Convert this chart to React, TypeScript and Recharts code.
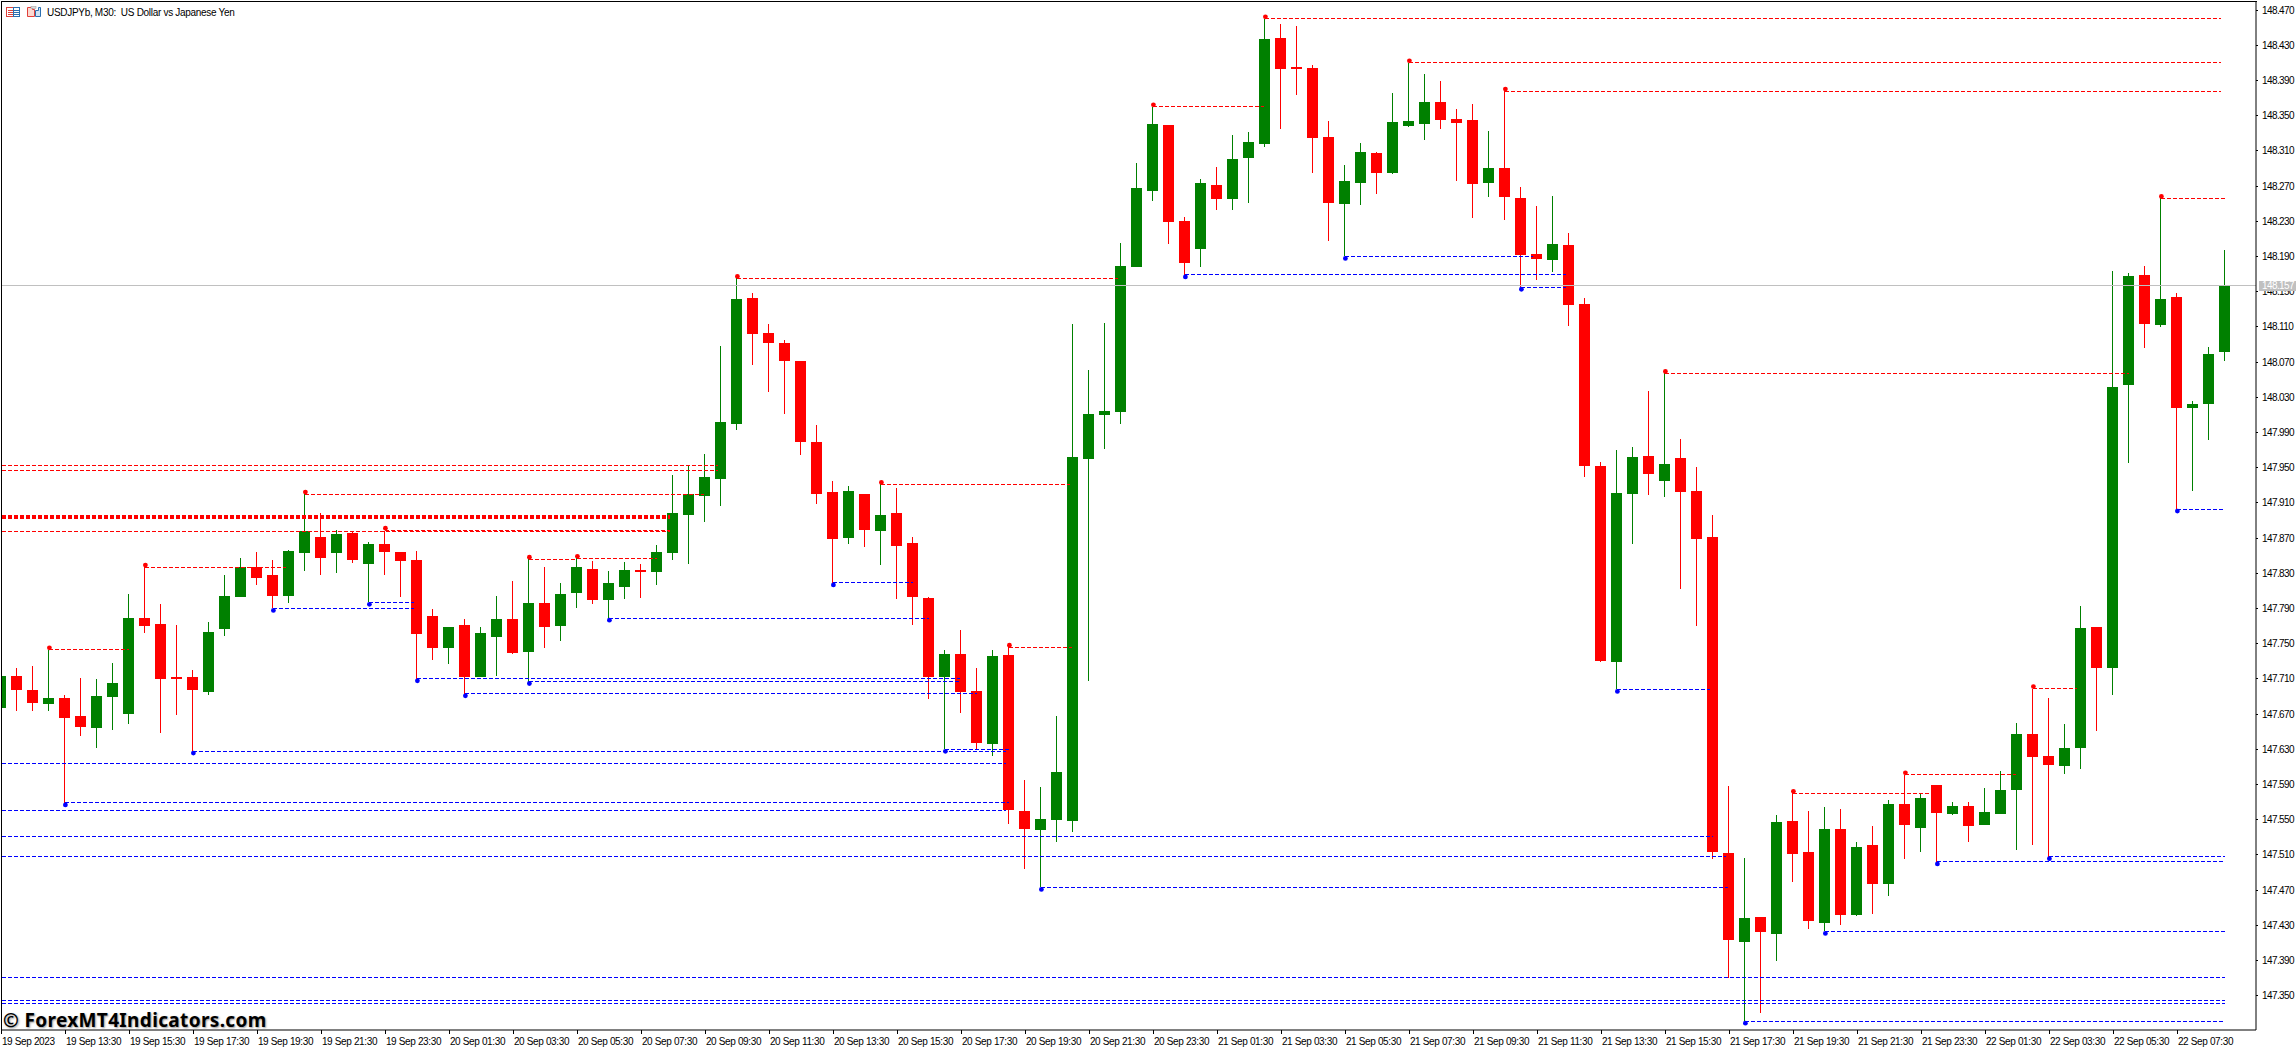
import React from 'react';
import { Bar, ComposedChart, ReferenceDot, ReferenceLine, XAxis, YAxis } from 'recharts';

const WIDTH = 2296;
const HEIGHT = 1047;
const X_MIN = 0.0375;
const X_MAX = 140.9125;
const UP = '#008000';
const DOWN = '#ff0000';
const BLUE = '#0000ff';
const LABEL_FONT = '"Liberation Sans", sans-serif';

const opens = [
  147.677, 147.713, 147.697, 147.682, 147.688, 147.668, 147.654, 147.689, 147.670, 147.779,
  147.772, 147.712, 147.712, 147.695, 147.767, 147.803, 147.837, 147.828, 147.804, 147.853,
  147.871, 147.853, 147.876, 147.841, 147.863, 147.854, 147.845, 147.782, 147.745, 147.771,
  147.712, 147.758, 147.778, 147.741, 147.796, 147.770, 147.808, 147.835, 147.800, 147.814,
  147.834, 147.832, 147.853, 147.896, 147.918, 147.937, 148.000, 148.143, 148.103, 148.092,
  148.071, 147.979, 147.922, 147.870, 147.920, 147.878, 147.898, 147.864, 147.802, 147.712,
  147.738, 147.696, 147.636, 147.737, 147.560, 147.538, 147.550, 147.548, 147.960, 148.010,
  148.013, 148.178, 148.264, 148.339, 148.230, 148.199, 148.271, 148.255, 148.302, 148.318,
  148.438, 148.405, 148.404, 148.326, 148.250, 148.274, 148.308, 148.285, 148.338, 148.341,
  148.366, 148.346, 148.345, 148.274, 148.291, 148.256, 148.193, 148.186, 148.203, 148.136,
  147.952, 147.729, 147.920, 147.963, 147.935, 147.961, 147.924, 147.871, 147.512, 147.411,
  147.439, 147.420, 147.549, 147.513, 147.433, 147.539, 147.442, 147.521, 147.477, 147.568,
  147.541, 147.589, 147.557, 147.566, 147.544, 147.557, 147.584, 147.647, 147.622, 147.611,
  147.632, 147.769, 147.722, 148.044, 148.169, 148.112, 148.144, 148.018, 148.022, 148.081,
];

const highs = [
  147.720, 147.722, 147.725, 147.743, 147.692, 147.711, 147.710, 147.728, 147.807, 147.837,
  147.795, 147.771, 147.720, 147.775, 147.828, 147.847, 147.854, 147.845, 147.857, 147.920,
  147.899, 147.879, 147.877, 147.866, 147.878, 147.854, 147.855, 147.789, 147.769, 147.778,
  147.769, 147.804, 147.821, 147.846, 147.837, 147.819, 147.847, 147.844, 147.833, 147.843,
  147.841, 147.862, 147.942, 147.953, 147.966, 148.088, 148.165, 148.149, 148.113, 148.095,
  148.071, 147.999, 147.935, 147.929, 147.920, 147.931, 147.927, 147.871, 147.803, 147.743,
  147.766, 147.722, 147.743, 147.746, 147.595, 147.587, 147.668, 148.113, 148.061, 148.114,
  148.205, 148.296, 148.360, 148.339, 148.235, 148.278, 148.292, 148.328, 148.331, 148.460,
  148.454, 148.452, 148.408, 148.344, 148.294, 148.319, 148.309, 148.376, 148.410, 148.397,
  148.389, 148.358, 148.363, 148.333, 148.378, 148.269, 148.247, 148.259, 148.217, 148.143,
  147.956, 147.970, 147.973, 148.037, 148.058, 147.983, 147.951, 147.896, 147.588, 147.506,
  147.439, 147.555, 147.580, 147.560, 147.564, 147.562, 147.525, 147.543, 147.572, 147.601,
  147.580, 147.589, 147.570, 147.570, 147.586, 147.605, 147.660, 147.699, 147.688, 147.659,
  147.793, 147.769, 148.173, 148.171, 148.179, 148.256, 148.148, 148.026, 148.087, 148.197,
];

const lows = [
  147.672, 147.674, 147.674, 147.674, 147.569, 147.645, 147.631, 147.652, 147.659, 147.762,
  147.649, 147.669, 147.628, 147.692, 147.759, 147.803, 147.817, 147.790, 147.796, 147.833,
  147.828, 147.830, 147.842, 147.797, 147.828, 147.803, 147.710, 147.732, 147.727, 147.693,
  147.712, 147.713, 147.738, 147.707, 147.745, 147.753, 147.791, 147.795, 147.779, 147.801,
  147.802, 147.817, 147.845, 147.841, 147.888, 147.906, 147.993, 148.067, 148.036, 148.011,
  147.964, 147.909, 147.819, 147.863, 147.860, 147.839, 147.801, 147.771, 147.687, 147.630,
  147.671, 147.629, 147.622, 147.545, 147.494, 147.473, 147.525, 147.536, 147.708, 147.971,
  148.000, 148.178, 148.253, 148.204, 148.169, 148.178, 148.243, 148.243, 148.251, 148.314,
  148.335, 148.374, 148.285, 148.208, 148.190, 148.248, 148.261, 148.284, 148.337, 148.322,
  148.335, 148.276, 148.234, 148.258, 148.232, 148.155, 148.163, 148.172, 148.111, 147.939,
  147.729, 147.698, 147.863, 147.919, 147.917, 147.812, 147.770, 147.505, 147.370, 147.321,
  147.330, 147.389, 147.479, 147.426, 147.423, 147.430, 147.441, 147.443, 147.463, 147.505,
  147.513, 147.502, 147.555, 147.525, 147.544, 147.557, 147.516, 147.521, 147.508, 147.602,
  147.608, 147.651, 147.692, 147.955, 148.086, 148.110, 147.903, 147.924, 147.981, 148.071,
];

const closes = [
  147.713, 147.697, 147.683, 147.688, 147.666, 147.655, 147.691, 147.705, 147.779, 147.770,
  147.710, 147.710, 147.697, 147.763, 147.804, 147.837, 147.825, 147.804, 147.855, 147.878,
  147.847, 147.875, 147.845, 147.863, 147.854, 147.844, 147.761, 147.745, 147.769, 147.712,
  147.762, 147.778, 147.739, 147.796, 147.769, 147.807, 147.837, 147.800, 147.819, 147.834,
  147.832, 147.854, 147.898, 147.920, 147.939, 148.002, 148.142, 148.102, 148.092, 148.071,
  147.979, 147.920, 147.869, 147.923, 147.879, 147.896, 147.861, 147.803, 147.712, 147.738,
  147.695, 147.637, 147.736, 147.561, 147.539, 147.551, 147.604, 147.962, 148.011, 148.014,
  148.179, 148.268, 148.341, 148.229, 148.183, 148.274, 148.255, 148.301, 148.320, 148.437,
  148.403, 148.403, 148.325, 148.251, 148.276, 148.309, 148.285, 148.343, 148.344, 148.366,
  148.345, 148.342, 148.272, 148.291, 148.258, 148.192, 148.187, 148.204, 148.135, 147.952,
  147.730, 147.921, 147.962, 147.943, 147.954, 147.922, 147.869, 147.513, 147.413, 147.438,
  147.422, 147.547, 147.511, 147.435, 147.539, 147.442, 147.519, 147.477, 147.568, 147.544,
  147.575, 147.558, 147.566, 147.543, 147.559, 147.584, 147.647, 147.621, 147.612, 147.631,
  147.768, 147.722, 148.042, 148.168, 148.113, 148.142, 148.018, 148.022, 148.079, 148.158,
];

// [start bar, end bar, price] -- start bar is where the pivot dot sits
const redPivots = [
  [3, 8, 147.743], [9, 17.8, 147.837], [19, 43.9, 147.920], [24, 41.8, 147.879], [33, 36, 147.846],
  [36, 41, 147.847], [46, 69.8, 148.165], [55, 66.8, 147.931], [63, 66.9, 147.746], [72, 78.9, 148.360],
  [79, 138.7, 148.460], [88, 138.7, 148.410], [94, 138.7, 148.378], [104, 133, 148.057], [112, 120.7, 147.580],
  [119, 125.9, 147.601], [127, 129.7, 147.699], [135, 139, 148.256],
];
const bluePivots = [
  [4, 63, 147.569], [12, 62.8, 147.628], [17, 25.8, 147.790], [23, 25.8, 147.797], [26, 59.9, 147.710],
  [29, 61, 147.693], [33, 59.9, 147.707], [38, 58, 147.779], [52, 57, 147.819], [59, 63, 147.630],
  [65, 107.9, 147.473], [74, 97.8, 148.169], [84, 95.7, 148.190], [95, 97.8, 148.155], [101, 106.8, 147.698],
  [109, 139, 147.321], [114, 139, 147.423], [121, 138.9, 147.502], [128, 139, 147.508], [136, 138.9, 147.903],
];
// lines left over from pivots older than the first visible bar: [end bar, price]
const redOlder = [[44.8, 147.952], [44.8, 147.947], [41.8, 147.878]];
const redOlderThick = [[41.8, 147.894]];
const blueOlder = [
  [62.8, 147.614], [62.8, 147.560], [107, 147.531], [107.8, 147.508],
  [139, 147.371], [139, 147.345], [139, 147.341],
];

const lastPrice = 148.157;

const priceTicks = [
  147.35, 147.39, 147.43, 147.47, 147.51, 147.55, 147.59, 147.63, 147.67, 147.71,
  147.75, 147.79, 147.83, 147.87, 147.91, 147.95, 147.99, 148.03, 148.07, 148.11,
  148.15, 148.19, 148.23, 148.27, 148.31, 148.35, 148.39, 148.43, 148.47,
];

const timeLabels = [
  '19 Sep 2023', '19 Sep 13:30', '19 Sep 15:30', '19 Sep 17:30', '19 Sep 19:30', '19 Sep 21:30', '19 Sep 23:30',
  '20 Sep 01:30', '20 Sep 03:30', '20 Sep 05:30', '20 Sep 07:30', '20 Sep 09:30', '20 Sep 11:30', '20 Sep 13:30',
  '20 Sep 15:30', '20 Sep 17:30', '20 Sep 19:30', '20 Sep 21:30', '20 Sep 23:30',
  '21 Sep 01:30', '21 Sep 03:30', '21 Sep 05:30', '21 Sep 07:30', '21 Sep 09:30', '21 Sep 11:30', '21 Sep 13:30',
  '21 Sep 15:30', '21 Sep 17:30', '21 Sep 19:30', '21 Sep 21:30', '21 Sep 23:30',
  '22 Sep 01:30', '22 Sep 03:30', '22 Sep 05:30', '22 Sep 07:30',
];
const timeTicks = timeLabels.map((_, i) => i * 4);

const candles = opens.map((open, i) => ({
  bar: i,
  open,
  high: highs[i],
  low: lows[i],
  close: closes[i],
  range: [lows[i], highs[i]],
}));

const Candle = (props: any) => {
  const { x, y, width, height, payload } = props;
  const { open, high, low, close } = payload;
  const color = close >= open ? UP : DOWN;
  const pxPerUnit = height / (high - low);
  const top = y + (high - Math.max(open, close)) * pxPerUnit;
  const bottom = y + (high - Math.min(open, close)) * pxPerUnit;
  return (
    <g shapeRendering="crispEdges">
      <rect x={x + width / 2 - 0.5} y={y} width={1} height={height} fill={color} />
      <rect x={x} y={top} width={width} height={Math.max(bottom - top, 2)} fill={color} />
    </g>
  );
};

const TimeTick = (props: any) => {
  const { x, y, payload } = props;
  return (
    <g>
      <line x1={x} x2={x} y1={y - 8} y2={y - 4} stroke="#000" shapeRendering="crispEdges" />
      <text x={x + 0.5} y={y + 7} fontSize={10} letterSpacing={-0.35} fontFamily={LABEL_FONT} fill="#000">
        {timeLabels[payload.value / 4]}
      </text>
    </g>
  );
};

// the last price goes through the same axis, drawn last so its tag sits on top of the 148.150 label
const PriceTick = (props: any) => {
  const { x, y, payload } = props;
  const isLast = payload.value === lastPrice;
  return (
    <g>
      {isLast && <rect x={x - 3} y={y - 5} width={40} height={10} fill="#c0c0c0" shapeRendering="crispEdges" />}
      {!isLast && <line x1={x - 6} x2={x - 4} y1={y} y2={y} stroke="#000" shapeRendering="crispEdges" />}
      <text
        x={x}
        y={y + 3.5}
        fontSize={10}
        letterSpacing={-0.6}
        fontFamily={LABEL_FONT}
        fill={isLast ? '#fff' : '#000'}
      >
        {payload.value.toFixed(3)}
      </text>
    </g>
  );
};

const pivotDot = (color: string, dy: number) => (props: any) => (
  <circle cx={props.cx} cy={props.cy + dy} r={2.4} fill={color} />
);

const levelLine = (key: string, from: number, to: number, price: number, color: string, thick = false) => (
  <ReferenceLine
    key={key}
    segment={[{ x: from, y: price }, { x: to, y: price }]}
    stroke={color}
    strokeWidth={thick ? 4 : 1}
    strokeDasharray="4 2"
    shapeRendering="crispEdges"
  />
);

const HeaderIcons = () => (
  <svg width={38} height={12} style={{ position: 'absolute', left: 5, top: 6 }}>
    <rect x={1.5} y={1.5} width={7} height={9} fill="#fff" stroke="#e0403a" />
    <rect x={8.5} y={1.5} width={6} height={9} fill="#fff" stroke="#2a6fb0" />
    <path d="M3 4.5h5M3 6.5h5M3 8.5h5" stroke="#e0403a" />
    <path d="M9 4.5h5M9 6.5h5M9 8.5h5" stroke="#2a6fb0" />
    <path d="M22.5 1.5h5v2h2v7h-7z" fill="#fbd9d2" stroke="#e0403a" />
    <path d="M30.5 10.5v-6h3v-3h2v9z" fill="#cfe4f5" stroke="#2a6fb0" />
    <rect x={26} y={0.5} width={5} height={2} fill="#ddd" stroke="#999" strokeWidth={0.5} />
  </svg>
);

export default function App() {
  return (
    <div style={{ position: 'absolute', left: 0, top: 0, width: WIDTH, height: HEIGHT, overflow: 'hidden', background: '#fff' }}>
      <ComposedChart
        width={WIDTH}
        height={HEIGHT}
        data={candles}
        margin={{ top: 1, right: 0, bottom: 0, left: 2 }}
      >
        <XAxis
          dataKey="bar"
          type="number"
          domain={[X_MIN, X_MAX]}
          allowDataOverflow
          ticks={timeTicks}
          interval={0}
          height={17}
          tick={<TimeTick />}
          tickLine={false}
          axisLine={{ stroke: '#000' }}
        />
        <YAxis
          orientation="right"
          type="number"
          domain={[147.311, 148.4803]}
          allowDataOverflow
          ticks={[...priceTicks, lastPrice]}
          interval={0}
          width={40}
          tickSize={4}
          tickMargin={2}
          tick={<PriceTick />}
          axisLine={{ stroke: '#000' }}
          tickLine={false}
        />
        <ReferenceLine y={lastPrice} stroke="#c0c0c0" shapeRendering="crispEdges" />
        {redOlder.map(([end, price], i) => levelLine(`ro${i}`, X_MIN, end, price, DOWN))}
        {redOlderThick.map(([end, price], i) => levelLine(`rt${i}`, X_MIN, end, price, DOWN, true))}
        {blueOlder.map(([end, price], i) => levelLine(`bo${i}`, X_MIN, end, price, BLUE))}
        {redPivots.map(([start, end, price], i) => levelLine(`r${i}`, start, end, price, DOWN))}
        {bluePivots.map(([start, end, price], i) => levelLine(`b${i}`, start, end, price, BLUE))}
        <Bar dataKey="range" barSize={11} shape={<Candle />} isAnimationActive={false} />
        {redPivots.map(([start, , price], i) => (
          <ReferenceDot key={`rd${i}`} x={start} y={price} shape={pivotDot(DOWN, -2)} />
        ))}
        {bluePivots.map(([start, , price], i) => (
          <ReferenceDot key={`bd${i}`} x={start} y={price} shape={pivotDot(BLUE, 2)} />
        ))}
      </ComposedChart>

      <div style={{ position: 'absolute', left: 1, top: 1, width: 2256, height: 1, background: '#000' }} />
      <div style={{ position: 'absolute', left: 1, top: 1, width: 1, height: 1030, background: '#000' }} />
      <HeaderIcons />
      <div
        style={{
          position: 'absolute',
          left: 47,
          top: 7,
          fontSize: 10,
          letterSpacing: -0.3,
          fontFamily: LABEL_FONT,
          color: '#000',
          whiteSpace: 'pre',
        }}
      >
        {'USDJPYb, M30:  US Dollar vs Japanese Yen'}
      </div>
      <div
        style={{
          position: 'absolute',
          left: 3,
          top: 1007,
          fontSize: 19,
          letterSpacing: 0.35,
          fontWeight: 700,
          fontFamily: '"Noto Sans", sans-serif',
          color: '#000',
          whiteSpace: 'pre',
          textShadow: '1px 1px 2px #999',
        }}
      >
        © ForexMT4Indicators.com
      </div>
    </div>
  );
}
